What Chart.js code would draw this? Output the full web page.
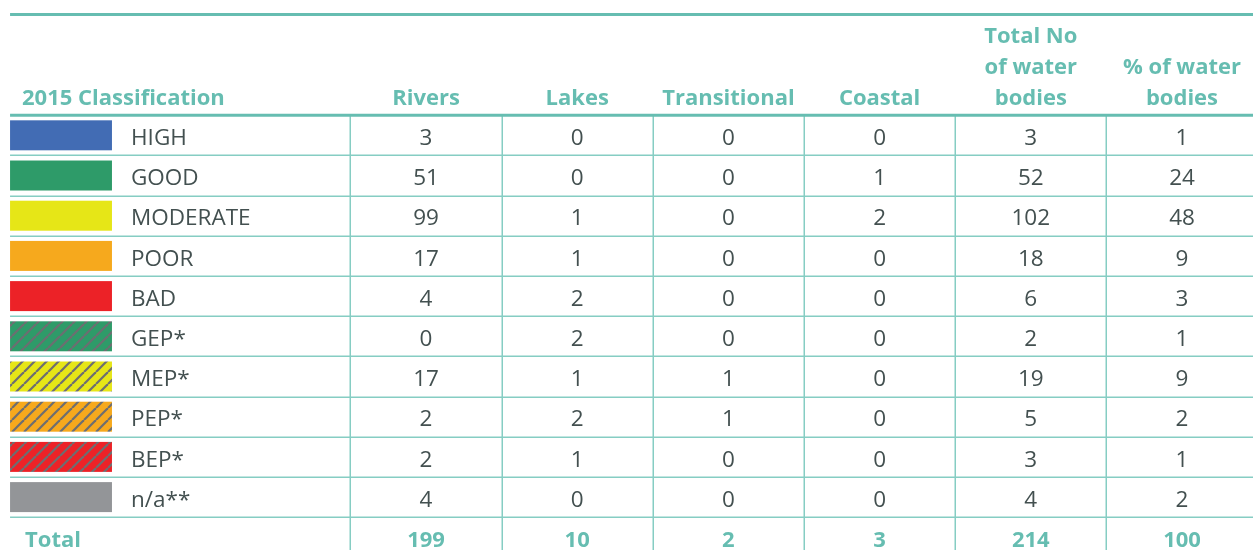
<!DOCTYPE html>
<html><head><meta charset="utf-8">
<script src="https://cdn.jsdelivr.net/npm/chart.js@4"></script>
<style>html,body{margin:0;padding:0;background:#fff}canvas{display:block}</style>
</head><body><canvas id="c" width="1253" height="550"></canvas>
<script>
// ---- data ----
const categories = ['HIGH','GOOD','MODERATE','POOR','BAD','GEP*','MEP*','PEP*','BEP*','n/a**'];
const headerTitle = '2015 Classification';
const columnHeaders = [['Rivers'],['Lakes'],['Transitional'],['Coastal'],['Total No','of water','bodies'],['% of water','bodies']];
const rivers       = [3,51,99,17,4,0,17,2,2,4];
const lakes        = [0,0,1,1,2,2,1,2,1,0];
const transitional = [0,0,0,0,0,0,1,1,0,0];
const coastal      = [0,1,2,0,0,0,0,0,0,0];
const totalBodies  = [3,52,102,18,6,2,19,5,3,4];
const pctBodies    = [1,24,48,9,3,1,9,2,1,2];
const totalLabel = 'Total';
const totals = [199,10,2,3,214,100];
const swatchColors = ['#426cb4','#2e9b69','#e6e617','#f6a91d','#ec2227','#2e9b69','#e6e617','#f6a91d','#ec2227','#939598'];
const hatched = [false,false,false,false,false,true,true,true,true,false];

// ---- style / layout ----
const TEAL = '#66bdb1', TEAL_LIGHT = '#86cdc3', TEXT = '#435050', HATCH = '#6d6e71';
const FONT = '"Open Sans", sans-serif';
const HEAD_FONT = 'bold 22px ' + FONT;
const BODY_FONT = '22.5px ' + FONT;
const L = {
  xMin: -2.8175, xMax: 5.4696, yMin: -3.366, yMax: 10.316,
  tableLeft: -2.751, swatchFrom: -2.751, swatchTo: -2.077, swatchHalf: 0.373,
  labelX: -1.951, titleX: -2.672, totalX: -2.652,
  topLine: -3.005, headerBase: -0.754, headerStep: 0.771, textDrop: 0.24
};

const seriesCols = [rivers, lakes, transitional, coastal, totalBodies, pctBodies];
const cellPoints = [];
seriesCols.forEach((arr, c) => arr.forEach((v, r) => cellPoints.push({x: c, y: r, v})));
const totalPoints = totals.map((v, c) => ({x: c, y: categories.length, v}));

function hatchPattern(ctx, color) {
  const s = 12, p = document.createElement('canvas');
  p.width = s; p.height = s;
  const g = p.getContext('2d');
  g.fillStyle = color; g.fillRect(0, 0, s, s);
  g.strokeStyle = HATCH; g.lineWidth = 2.2;
  for (const o of [-s, 0, s]) { g.beginPath(); g.moveTo(o, s); g.lineTo(o + s, 0); g.stroke(); }
  return ctx.createPattern(p, 'repeat');
}

const tablePlugin = {
  id: 'table',
  beforeDatasetsDraw(chart) {
    const {ctx, scales: {x, y}, width} = chart;
    const nRows = categories.length;
    ctx.save();
    ctx.strokeStyle = TEAL_LIGHT; ctx.lineWidth = 1.5;
    for (let r = 0; r <= nRows; r++) {
      const py = Math.round(y.getPixelForValue(r + 0.5)) + 0.25;
      ctx.beginPath(); ctx.moveTo(x.getPixelForValue(L.tableLeft), py); ctx.lineTo(width, py); ctx.stroke();
    }
    const yTop = y.getPixelForValue(-0.5);
    for (let c = 0; c < columnHeaders.length; c++) {
      const px = Math.round(x.getPixelForValue(c - 0.5)) + 0.25;
      ctx.beginPath(); ctx.moveTo(px, yTop); ctx.lineTo(px, chart.height); ctx.stroke();
    }
    ctx.strokeStyle = TEAL; ctx.lineWidth = 3;
    for (const v of [L.topLine, -0.5]) {
      const py = y.getPixelForValue(v);
      ctx.beginPath(); ctx.moveTo(x.getPixelForValue(L.tableLeft), py); ctx.lineTo(width, py); ctx.stroke();
    }
    const x0 = x.getPixelForValue(L.swatchFrom), x1 = x.getPixelForValue(L.swatchTo);
    categories.forEach((name, r) => {
      const yA = y.getPixelForValue(r - L.swatchHalf), yB = y.getPixelForValue(r + L.swatchHalf);
      ctx.fillStyle = hatched[r] ? hatchPattern(ctx, swatchColors[r]) : swatchColors[r];
      ctx.fillRect(x0, yA, x1 - x0, yB - yA);
      ctx.fillStyle = TEXT; ctx.font = BODY_FONT; ctx.textAlign = 'left'; ctx.textBaseline = 'alphabetic';
      ctx.fillText(name, x.getPixelForValue(L.labelX), y.getPixelForValue(r + L.textDrop));
    });
    ctx.fillStyle = TEAL; ctx.font = HEAD_FONT; ctx.textBaseline = 'alphabetic';
    ctx.textAlign = 'left';
    ctx.fillText(headerTitle, x.getPixelForValue(L.titleX), y.getPixelForValue(L.headerBase));
    ctx.fillText(totalLabel, x.getPixelForValue(L.totalX), y.getPixelForValue(nRows + L.textDrop));
    ctx.textAlign = 'center';
    columnHeaders.forEach((lines, c) => {
      const n = lines.length;
      lines.forEach((t, i) => ctx.fillText(t, x.getPixelForValue(c), y.getPixelForValue(L.headerBase - (n - 1 - i) * L.headerStep)));
    });
    ctx.restore();
  },
  afterDatasetsDraw(chart) {
    const {ctx, scales: {y}} = chart;
    ctx.save();
    ctx.textAlign = 'center'; ctx.textBaseline = 'alphabetic';
    const drop = y.getPixelForValue(L.textDrop) - y.getPixelForValue(0);
    chart.data.datasets.forEach((ds, di) => {
      const meta = chart.getDatasetMeta(di);
      ctx.fillStyle = ds.textColor; ctx.font = ds.textFont;
      meta.data.forEach((el, i) => ctx.fillText(String(ds.data[i].v), el.x, el.y + drop));
    });
    ctx.restore();
  }
};

new Chart(document.getElementById('c'), {
  type: 'scatter',
  data: {datasets: [
    {data: cellPoints, pointRadius: 0, textColor: TEXT, textFont: BODY_FONT},
    {data: totalPoints, pointRadius: 0, textColor: TEAL, textFont: HEAD_FONT}
  ]},
  options: {
    responsive: false, devicePixelRatio: 1, animation: false,
    layout: {padding: 0},
    plugins: {legend: {display: false}, tooltip: {enabled: false}},
    scales: {
      x: {type: 'linear', display: false, min: L.xMin, max: L.xMax},
      y: {type: 'linear', display: false, reverse: true, min: L.yMin, max: L.yMax}
    }
  },
  plugins: [tablePlugin]
});
</script></body></html>
